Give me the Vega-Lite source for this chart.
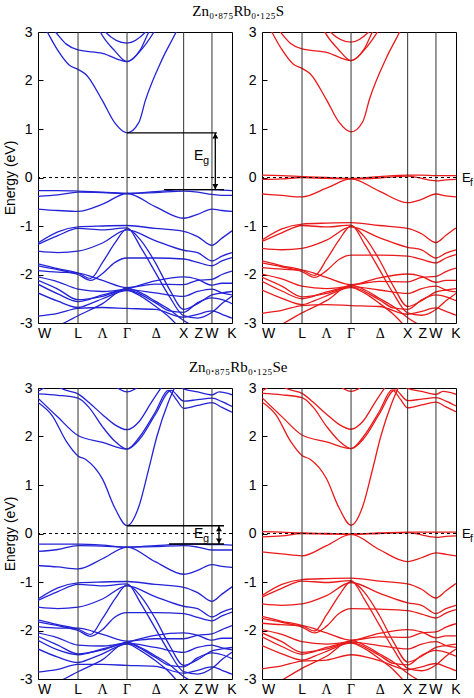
{
"$schema":"https://vega.github.io/schema/vega-lite/v6.json",
"background":"white",
"padding":{"left":3,"top":3,"right":0,"bottom":0},
"spacing":17,
"datasets":{
"sym":[{"k":0.707},{"k":1.573},{"k":2.573},{"k":3.073}],
"zero":[{"e":0}],
"labW0":[{"k":0,"t":"W"}],
"labS":[{"k":0.707,"t":"L"},{"k":2.573,"t":"X"},{"k":2.84,"t":"Z"},{"k":3.073,"t":"W"},{"k":3.427,"t":"K"}],
"labG":[{"k":1.14,"t":"Λ"},{"k":1.573,"t":"Γ"},{"k":2.09,"t":"Δ"}],
"egsH":[{"k":1.573,"k2":3.16,"e":0.92},{"k":2.226,"k2":3.286,"e":-0.25}],
"egsV":[{"k":3.132,"e":0.92,"e2":-0.25}],
"egsA":[{"k":3.132,"e":0.858,"dir":"up"},{"k":3.132,"e":-0.188,"dir":"down"}],
"egsT":[{"k":2.756,"e":0.435}],
"egeH":[{"k":1.573,"k2":3.286,"e":0.16},{"k":2.314,"k2":3.286,"e":-0.217}],
"egeV":[{"k":3.197,"e":0.16,"e2":-0.217}],
"egeA":[{"k":3.197,"e":0.098,"dir":"up"},{"k":3.197,"e":-0.155,"dir":"down"}],
"egeT":[{"k":2.756,"e":0.0}],
"ef":[{"k":3.427,"e":0}],
"sb":[
{"b":"c1","k":0,"e":3.35},{"b":"c1","k":0.164,"e":3.0},{"b":"c1","k":0.35,"e":2.62},{"b":"c1","k":0.55,"e":2.32},{"b":"c1","k":0.707,"e":2.23},{"b":"c1","k":0.85,"e":2.12},{"b":"c1","k":1.14,"e":1.58},{"b":"c1","k":1.36,"e":1.12},{"b":"c1","k":1.573,"e":0.92},{"b":"c1","k":1.78,"e":1.13},{"b":"c1","k":1.9,"e":1.6},{"b":"c1","k":2.19,"e":2.43},{"b":"c1","k":2.44,"e":3.0},{"b":"c1","k":2.6,"e":3.4},
{"b":"c2","k":0.1,"e":3.3},{"b":"c2","k":0.31,"e":3.0},{"b":"c2","k":0.5,"e":2.75},{"b":"c2","k":0.707,"e":2.63},{"b":"c2","k":1.14,"e":2.56},{"b":"c2","k":1.573,"e":2.39},{"b":"c2","k":1.8,"e":2.62},{"b":"c2","k":1.96,"e":3.0},{"b":"c2","k":2.15,"e":3.3},
{"b":"c3","k":0.95,"e":3.4},{"b":"c3","k":1.1,"e":3.0},{"b":"c3","k":1.35,"e":2.62},{"b":"c3","k":1.573,"e":2.39},{"b":"c3","k":1.8,"e":2.6},{"b":"c3","k":2.05,"e":3.0},{"b":"c3","k":2.2,"e":3.3},
{"b":"c4","k":1.0,"e":3.3},{"b":"c4","k":1.19,"e":3.0},{"b":"c4","k":1.573,"e":2.77},{"b":"c4","k":1.9,"e":3.0},{"b":"c4","k":2.1,"e":3.3},
{"b":"vA","k":0,"e":-0.27},{"b":"vA","k":0.35,"e":-0.27},{"b":"vA","k":0.707,"e":-0.28},{"b":"vA","k":1.14,"e":-0.3},{"b":"vA","k":1.573,"e":-0.33},{"b":"vA","k":2.07,"e":-0.29},{"b":"vA","k":2.573,"e":-0.25},{"b":"vA","k":2.82,"e":-0.25},{"b":"vA","k":3.073,"e":-0.25},{"b":"vA","k":3.25,"e":-0.26},{"b":"vA","k":3.427,"e":-0.27},
{"b":"vB","k":0,"e":-0.39},{"b":"vB","k":0.35,"e":-0.36},{"b":"vB","k":0.707,"e":-0.3},{"b":"vB","k":1.14,"e":-0.31},{"b":"vB","k":1.573,"e":-0.33},{"b":"vB","k":2.07,"e":-0.31},{"b":"vB","k":2.573,"e":-0.28},{"b":"vB","k":2.82,"e":-0.3},{"b":"vB","k":3.073,"e":-0.35},{"b":"vB","k":3.25,"e":-0.37},{"b":"vB","k":3.427,"e":-0.37},
{"b":"vC","k":0,"e":-0.65},{"b":"vC","k":0.35,"e":-0.68},{"b":"vC","k":0.707,"e":-0.7},{"b":"vC","k":1.14,"e":-0.55},{"b":"vC","k":1.573,"e":-0.33},{"b":"vC","k":2.07,"e":-0.6},{"b":"vC","k":2.573,"e":-0.84},{"b":"vC","k":2.82,"e":-0.76},{"b":"vC","k":3.073,"e":-0.65},{"b":"vC","k":3.25,"e":-0.68},{"b":"vC","k":3.427,"e":-0.7},
{"b":"B1","k":0,"e":-1.35},{"b":"B1","k":0.35,"e":-1.12},{"b":"B1","k":0.707,"e":-1.02},{"b":"B1","k":1.14,"e":-1.0},{"b":"B1","k":1.573,"e":-0.99},{"b":"B1","k":2.07,"e":-1.05},{"b":"B1","k":2.573,"e":-1.11},{"b":"B1","k":2.82,"e":-1.22},{"b":"B1","k":3.073,"e":-1.4},{"b":"B1","k":3.25,"e":-1.25},{"b":"B1","k":3.427,"e":-1.1},
{"b":"B2","k":0,"e":-1.38},{"b":"B2","k":0.35,"e":-1.2},{"b":"B2","k":0.707,"e":-1.05},{"b":"B2","k":1.14,"e":-1.08},{"b":"B2","k":1.573,"e":-1.04},{"b":"B2","k":1.82,"e":-1.45},{"b":"B2","k":2.07,"e":-1.95},{"b":"B2","k":2.32,"e":-2.45},{"b":"B2","k":2.573,"e":-2.85},{"b":"B2","k":2.82,"e":-2.9},{"b":"B2","k":3.073,"e":-2.78},{"b":"B2","k":3.25,"e":-2.6},{"b":"B2","k":3.427,"e":-2.45},
{"b":"B3","k":0,"e":-1.52},{"b":"B3","k":0.35,"e":-1.55},{"b":"B3","k":0.707,"e":-1.52},{"b":"B3","k":1.14,"e":-1.35},{"b":"B3","k":1.573,"e":-1.08},{"b":"B3","k":2.07,"e":-1.3},{"b":"B3","k":2.573,"e":-1.5},{"b":"B3","k":2.82,"e":-1.55},{"b":"B3","k":3.073,"e":-1.72},{"b":"B3","k":3.25,"e":-1.62},{"b":"B3","k":3.427,"e":-1.55},
{"b":"B4","k":0,"e":-1.78},{"b":"B4","k":0.35,"e":-1.88},{"b":"B4","k":0.707,"e":-1.97},{"b":"B4","k":0.93,"e":-2.08},{"b":"B4","k":1.14,"e":-1.75},{"b":"B4","k":1.36,"e":-1.35},{"b":"B4","k":1.573,"e":-1.06},{"b":"B4","k":1.82,"e":-1.3},{"b":"B4","k":2.07,"e":-1.75},{"b":"B4","k":2.32,"e":-2.3},{"b":"B4","k":2.573,"e":-2.72},{"b":"B4","k":2.82,"e":-2.6},{"b":"B4","k":3.073,"e":-2.42},{"b":"B4","k":3.25,"e":-2.38},{"b":"B4","k":3.427,"e":-2.35},
{"b":"B5","k":0,"e":-1.82},{"b":"B5","k":0.35,"e":-1.9},{"b":"B5","k":0.707,"e":-2.0},{"b":"B5","k":0.93,"e":-2.12},{"b":"B5","k":1.14,"e":-1.98},{"b":"B5","k":1.36,"e":-1.75},{"b":"B5","k":1.573,"e":-1.66},{"b":"B5","k":2.07,"e":-1.66},{"b":"B5","k":2.573,"e":-1.68},{"b":"B5","k":2.82,"e":-1.75},{"b":"B5","k":3.073,"e":-1.82},{"b":"B5","k":3.25,"e":-1.72},{"b":"B5","k":3.427,"e":-1.65},
{"b":"B6","k":0,"e":-1.92},{"b":"B6","k":0.35,"e":-1.95},{"b":"B6","k":0.707,"e":-1.97},{"b":"B6","k":1.14,"e":-2.12},{"b":"B6","k":1.573,"e":-2.27},{"b":"B6","k":2.07,"e":-2.2},{"b":"B6","k":2.573,"e":-2.21},{"b":"B6","k":2.82,"e":-2.12},{"b":"B6","k":3.073,"e":-2.1},{"b":"B6","k":3.25,"e":-2.0},{"b":"B6","k":3.427,"e":-1.93},
{"b":"B7","k":0,"e":-2.05},{"b":"B7","k":0.35,"e":-2.15},{"b":"B7","k":0.707,"e":-2.3},{"b":"B7","k":1.14,"e":-2.35},{"b":"B7","k":1.573,"e":-2.29},{"b":"B7","k":2.07,"e":-2.13},{"b":"B7","k":2.573,"e":-2.05},{"b":"B7","k":2.82,"e":-2.1},{"b":"B7","k":3.073,"e":-2.22},{"b":"B7","k":3.25,"e":-2.18},{"b":"B7","k":3.427,"e":-2.18},
{"b":"B8","k":0,"e":-2.12},{"b":"B8","k":0.35,"e":-2.3},{"b":"B8","k":0.707,"e":-2.52},{"b":"B8","k":1.14,"e":-2.45},{"b":"B8","k":1.573,"e":-2.31},{"b":"B8","k":2.07,"e":-2.38},{"b":"B8","k":2.573,"e":-2.45},{"b":"B8","k":2.82,"e":-2.35},{"b":"B8","k":3.073,"e":-2.3},{"b":"B8","k":3.25,"e":-2.38},{"b":"B8","k":3.427,"e":-2.42},
{"b":"B9","k":0,"e":-2.2},{"b":"B9","k":0.35,"e":-2.4},{"b":"B9","k":0.707,"e":-2.56},{"b":"B9","k":1.14,"e":-2.42},{"b":"B9","k":1.573,"e":-2.32},{"b":"B9","k":2.07,"e":-2.58},{"b":"B9","k":2.32,"e":-2.75},{"b":"B9","k":2.573,"e":-2.78},{"b":"B9","k":2.82,"e":-2.58},{"b":"B9","k":3.073,"e":-2.48},{"b":"B9","k":3.25,"e":-2.52},{"b":"B9","k":3.427,"e":-2.6},
{"b":"B10","k":0,"e":-2.86},{"b":"B10","k":0.35,"e":-2.8},{"b":"B10","k":0.707,"e":-2.7},{"b":"B10","k":1.14,"e":-2.68},{"b":"B10","k":1.573,"e":-2.7},{"b":"B10","k":2.07,"e":-2.72},{"b":"B10","k":2.573,"e":-2.88},{"b":"B10","k":2.82,"e":-2.82},{"b":"B10","k":3.073,"e":-2.75},{"b":"B10","k":3.25,"e":-2.82},{"b":"B10","k":3.427,"e":-2.9},
{"b":"B11","k":0,"e":-2.38},{"b":"B11","k":0.35,"e":-2.55},{"b":"B11","k":0.707,"e":-2.68},{"b":"B11","k":0.93,"e":-2.6},{"b":"B11","k":1.14,"e":-2.5},{"b":"B11","k":1.573,"e":-2.33},{"b":"B11","k":1.82,"e":-2.45},{"b":"B11","k":2.07,"e":-2.65},{"b":"B11","k":2.32,"e":-2.88},{"b":"B11","k":2.5,"e":-3.1},
{"b":"B12","k":0.3,"e":-3.1},{"b":"B12","k":0.707,"e":-2.85},{"b":"B12","k":1.14,"e":-2.6},{"b":"B12","k":1.573,"e":-2.28},{"b":"B12","k":1.82,"e":-2.38},{"b":"B12","k":2.07,"e":-2.55},{"b":"B12","k":2.32,"e":-2.72},{"b":"B12","k":2.573,"e":-2.95},{"b":"B12","k":2.82,"e":-3.1}
],
"sr":[
{"b":"c1","k":0,"e":3.37},{"b":"c1","k":0.164,"e":3.02},{"b":"c1","k":0.35,"e":2.64},{"b":"c1","k":0.55,"e":2.34},{"b":"c1","k":0.707,"e":2.25},{"b":"c1","k":0.85,"e":2.14},{"b":"c1","k":1.14,"e":1.6},{"b":"c1","k":1.36,"e":1.14},{"b":"c1","k":1.573,"e":0.94},{"b":"c1","k":1.78,"e":1.15},{"b":"c1","k":1.9,"e":1.62},{"b":"c1","k":2.19,"e":2.45},{"b":"c1","k":2.44,"e":3.02},{"b":"c1","k":2.6,"e":3.42},
{"b":"c2","k":0.1,"e":3.32},{"b":"c2","k":0.31,"e":3.02},{"b":"c2","k":0.5,"e":2.77},{"b":"c2","k":0.707,"e":2.65},{"b":"c2","k":1.14,"e":2.58},{"b":"c2","k":1.573,"e":2.41},{"b":"c2","k":1.8,"e":2.64},{"b":"c2","k":1.96,"e":3.02},{"b":"c2","k":2.15,"e":3.32},
{"b":"c3","k":0.95,"e":3.42},{"b":"c3","k":1.1,"e":3.02},{"b":"c3","k":1.35,"e":2.64},{"b":"c3","k":1.573,"e":2.41},{"b":"c3","k":1.8,"e":2.62},{"b":"c3","k":2.05,"e":3.02},{"b":"c3","k":2.2,"e":3.32},
{"b":"c4","k":1.0,"e":3.32},{"b":"c4","k":1.19,"e":3.02},{"b":"c4","k":1.573,"e":2.79},{"b":"c4","k":1.9,"e":3.02},{"b":"c4","k":2.1,"e":3.32},
{"b":"vA","k":0,"e":0.05},{"b":"vA","k":0.35,"e":0.04},{"b":"vA","k":0.707,"e":0.02},{"b":"vA","k":1.14,"e":0.0},{"b":"vA","k":1.573,"e":-0.02},{"b":"vA","k":2.07,"e":0.02},{"b":"vA","k":2.573,"e":0.05},{"b":"vA","k":2.82,"e":0.05},{"b":"vA","k":3.073,"e":0.04},{"b":"vA","k":3.25,"e":0.04},{"b":"vA","k":3.427,"e":0.04},
{"b":"vB","k":0,"e":-0.04},{"b":"vB","k":0.35,"e":-0.03},{"b":"vB","k":0.707,"e":0.0},{"b":"vB","k":1.14,"e":-0.02},{"b":"vB","k":1.573,"e":-0.03},{"b":"vB","k":2.07,"e":-0.01},{"b":"vB","k":2.573,"e":0.03},{"b":"vB","k":2.82,"e":-0.02},{"b":"vB","k":3.073,"e":-0.07},{"b":"vB","k":3.25,"e":-0.05},{"b":"vB","k":3.427,"e":-0.04},
{"b":"vC","k":0,"e":-0.34},{"b":"vC","k":0.35,"e":-0.37},{"b":"vC","k":0.707,"e":-0.4},{"b":"vC","k":1.14,"e":-0.22},{"b":"vC","k":1.573,"e":-0.03},{"b":"vC","k":2.07,"e":-0.28},{"b":"vC","k":2.573,"e":-0.52},{"b":"vC","k":2.82,"e":-0.45},{"b":"vC","k":3.073,"e":-0.34},{"b":"vC","k":3.25,"e":-0.38},{"b":"vC","k":3.427,"e":-0.4},
{"b":"B1","k":0,"e":-1.29},{"b":"B1","k":0.35,"e":-1.06},{"b":"B1","k":0.707,"e":-0.96},{"b":"B1","k":1.14,"e":-0.94},{"b":"B1","k":1.573,"e":-0.93},{"b":"B1","k":2.07,"e":-0.99},{"b":"B1","k":2.573,"e":-1.05},{"b":"B1","k":2.82,"e":-1.16},{"b":"B1","k":3.073,"e":-1.34},{"b":"B1","k":3.25,"e":-1.19},{"b":"B1","k":3.427,"e":-1.04},
{"b":"B2","k":0,"e":-1.32},{"b":"B2","k":0.35,"e":-1.14},{"b":"B2","k":0.707,"e":-0.99},{"b":"B2","k":1.14,"e":-1.02},{"b":"B2","k":1.573,"e":-0.98},{"b":"B2","k":1.82,"e":-1.39},{"b":"B2","k":2.07,"e":-1.89},{"b":"B2","k":2.32,"e":-2.39},{"b":"B2","k":2.573,"e":-2.79},{"b":"B2","k":2.82,"e":-2.84},{"b":"B2","k":3.073,"e":-2.72},{"b":"B2","k":3.25,"e":-2.54},{"b":"B2","k":3.427,"e":-2.39},
{"b":"B3","k":0,"e":-1.46},{"b":"B3","k":0.35,"e":-1.49},{"b":"B3","k":0.707,"e":-1.46},{"b":"B3","k":1.14,"e":-1.29},{"b":"B3","k":1.573,"e":-1.02},{"b":"B3","k":2.07,"e":-1.24},{"b":"B3","k":2.573,"e":-1.44},{"b":"B3","k":2.82,"e":-1.49},{"b":"B3","k":3.073,"e":-1.66},{"b":"B3","k":3.25,"e":-1.56},{"b":"B3","k":3.427,"e":-1.49},
{"b":"B4","k":0,"e":-1.72},{"b":"B4","k":0.35,"e":-1.82},{"b":"B4","k":0.707,"e":-1.91},{"b":"B4","k":0.93,"e":-2.02},{"b":"B4","k":1.14,"e":-1.69},{"b":"B4","k":1.36,"e":-1.29},{"b":"B4","k":1.573,"e":-1.0},{"b":"B4","k":1.82,"e":-1.24},{"b":"B4","k":2.07,"e":-1.69},{"b":"B4","k":2.32,"e":-2.24},{"b":"B4","k":2.573,"e":-2.66},{"b":"B4","k":2.82,"e":-2.54},{"b":"B4","k":3.073,"e":-2.36},{"b":"B4","k":3.25,"e":-2.32},{"b":"B4","k":3.427,"e":-2.29},
{"b":"B5","k":0,"e":-1.76},{"b":"B5","k":0.35,"e":-1.84},{"b":"B5","k":0.707,"e":-1.94},{"b":"B5","k":0.93,"e":-2.06},{"b":"B5","k":1.14,"e":-1.92},{"b":"B5","k":1.36,"e":-1.69},{"b":"B5","k":1.573,"e":-1.6},{"b":"B5","k":2.07,"e":-1.6},{"b":"B5","k":2.573,"e":-1.62},{"b":"B5","k":2.82,"e":-1.69},{"b":"B5","k":3.073,"e":-1.76},{"b":"B5","k":3.25,"e":-1.66},{"b":"B5","k":3.427,"e":-1.59},
{"b":"B6","k":0,"e":-1.86},{"b":"B6","k":0.35,"e":-1.89},{"b":"B6","k":0.707,"e":-1.91},{"b":"B6","k":1.14,"e":-2.06},{"b":"B6","k":1.573,"e":-2.21},{"b":"B6","k":2.07,"e":-2.14},{"b":"B6","k":2.573,"e":-2.15},{"b":"B6","k":2.82,"e":-2.06},{"b":"B6","k":3.073,"e":-2.04},{"b":"B6","k":3.25,"e":-1.94},{"b":"B6","k":3.427,"e":-1.87},
{"b":"B7","k":0,"e":-1.99},{"b":"B7","k":0.35,"e":-2.09},{"b":"B7","k":0.707,"e":-2.24},{"b":"B7","k":1.14,"e":-2.29},{"b":"B7","k":1.573,"e":-2.23},{"b":"B7","k":2.07,"e":-2.07},{"b":"B7","k":2.573,"e":-1.99},{"b":"B7","k":2.82,"e":-2.04},{"b":"B7","k":3.073,"e":-2.16},{"b":"B7","k":3.25,"e":-2.12},{"b":"B7","k":3.427,"e":-2.12},
{"b":"B8","k":0,"e":-2.06},{"b":"B8","k":0.35,"e":-2.24},{"b":"B8","k":0.707,"e":-2.46},{"b":"B8","k":1.14,"e":-2.39},{"b":"B8","k":1.573,"e":-2.25},{"b":"B8","k":2.07,"e":-2.32},{"b":"B8","k":2.573,"e":-2.39},{"b":"B8","k":2.82,"e":-2.29},{"b":"B8","k":3.073,"e":-2.24},{"b":"B8","k":3.25,"e":-2.32},{"b":"B8","k":3.427,"e":-2.36},
{"b":"B9","k":0,"e":-2.14},{"b":"B9","k":0.35,"e":-2.34},{"b":"B9","k":0.707,"e":-2.5},{"b":"B9","k":1.14,"e":-2.36},{"b":"B9","k":1.573,"e":-2.26},{"b":"B9","k":2.07,"e":-2.52},{"b":"B9","k":2.32,"e":-2.69},{"b":"B9","k":2.573,"e":-2.72},{"b":"B9","k":2.82,"e":-2.52},{"b":"B9","k":3.073,"e":-2.42},{"b":"B9","k":3.25,"e":-2.46},{"b":"B9","k":3.427,"e":-2.54},
{"b":"B10","k":0,"e":-2.8},{"b":"B10","k":0.35,"e":-2.74},{"b":"B10","k":0.707,"e":-2.64},{"b":"B10","k":1.14,"e":-2.62},{"b":"B10","k":1.573,"e":-2.64},{"b":"B10","k":2.07,"e":-2.66},{"b":"B10","k":2.573,"e":-2.82},{"b":"B10","k":2.82,"e":-2.76},{"b":"B10","k":3.073,"e":-2.69},{"b":"B10","k":3.25,"e":-2.76},{"b":"B10","k":3.427,"e":-2.84},
{"b":"B11","k":0,"e":-2.32},{"b":"B11","k":0.35,"e":-2.49},{"b":"B11","k":0.707,"e":-2.62},{"b":"B11","k":0.93,"e":-2.54},{"b":"B11","k":1.14,"e":-2.44},{"b":"B11","k":1.573,"e":-2.27},{"b":"B11","k":1.82,"e":-2.39},{"b":"B11","k":2.07,"e":-2.59},{"b":"B11","k":2.32,"e":-2.82},{"b":"B11","k":2.55,"e":-3.1},
{"b":"B12","k":0.25,"e":-3.1},{"b":"B12","k":0.707,"e":-2.79},{"b":"B12","k":1.14,"e":-2.54},{"b":"B12","k":1.573,"e":-2.22},{"b":"B12","k":1.82,"e":-2.32},{"b":"B12","k":2.07,"e":-2.49},{"b":"B12","k":2.32,"e":-2.66},{"b":"B12","k":2.573,"e":-2.89},{"b":"B12","k":2.87,"e":-3.1}
],
"eb":[
{"b":"c1","k":0,"e":2.7},{"b":"c1","k":0.25,"e":2.43},{"b":"c1","k":0.5,"e":1.9},{"b":"c1","k":0.707,"e":1.6},{"b":"c1","k":0.85,"e":1.52},{"b":"c1","k":1.14,"e":1.12},{"b":"c1","k":1.36,"e":0.52},{"b":"c1","k":1.573,"e":0.16},{"b":"c1","k":1.78,"e":0.55},{"b":"c1","k":1.95,"e":1.3},{"b":"c1","k":2.1,"e":2.0},{"b":"c1","k":2.3,"e":2.7},{"b":"c1","k":2.45,"e":3.1},
{"b":"c2","k":0,"e":2.79},{"b":"c2","k":0.35,"e":2.4},{"b":"c2","k":0.707,"e":2.02},{"b":"c2","k":1.14,"e":1.88},{"b":"c2","k":1.573,"e":1.74},{"b":"c2","k":1.8,"e":1.95},{"b":"c2","k":2.07,"e":2.45},{"b":"c2","k":2.35,"e":2.95},{"b":"c2","k":2.573,"e":2.73},{"b":"c2","k":2.82,"e":2.76},{"b":"c2","k":3.073,"e":2.79},{"b":"c2","k":3.25,"e":2.72},{"b":"c2","k":3.427,"e":2.62},
{"b":"c3","k":0,"e":2.88},{"b":"c3","k":0.35,"e":2.85},{"b":"c3","k":0.707,"e":2.79},{"b":"c3","k":0.9,"e":2.6},{"b":"c3","k":1.14,"e":2.2},{"b":"c3","k":1.36,"e":1.9},{"b":"c3","k":1.573,"e":1.74},{"b":"c3","k":1.8,"e":2.0},{"b":"c3","k":2.07,"e":2.5},{"b":"c3","k":2.3,"e":2.95},{"b":"c3","k":2.45,"e":2.75},{"b":"c3","k":2.573,"e":2.58},{"b":"c3","k":2.82,"e":2.64},{"b":"c3","k":3.073,"e":2.7},{"b":"c3","k":3.25,"e":2.6},{"b":"c3","k":3.427,"e":2.5},
{"b":"c4","k":0.3,"e":3.05},{"b":"c4","k":0.5,"e":2.95},{"b":"c4","k":0.707,"e":2.88},{"b":"c4","k":0.9,"e":2.7},{"b":"c4","k":1.14,"e":2.45},{"b":"c4","k":1.36,"e":2.24},{"b":"c4","k":1.573,"e":2.14},{"b":"c4","k":1.78,"e":2.3},{"b":"c4","k":2.0,"e":2.7},{"b":"c4","k":2.2,"e":3.05},
{"b":"c5","k":1.3,"e":3.1},{"b":"c5","k":1.45,"e":2.97},{"b":"c5","k":1.573,"e":2.92},{"b":"c5","k":1.7,"e":2.97},{"b":"c5","k":1.85,"e":3.1},
{"b":"c6","k":2.45,"e":3.1},{"b":"c6","k":2.573,"e":2.98},{"b":"c6","k":2.82,"e":2.92},{"b":"c6","k":3.073,"e":2.86},{"b":"c6","k":3.2,"e":2.92},{"b":"c6","k":3.427,"e":2.86},
{"b":"c7","k":0,"e":2.93},{"b":"c7","k":0.1,"e":3.0},{"b":"c7","k":0.2,"e":3.1},
{"b":"vA","k":0,"e":-0.22},{"b":"vA","k":0.35,"e":-0.22},{"b":"vA","k":0.707,"e":-0.22},{"b":"vA","k":1.14,"e":-0.24},{"b":"vA","k":1.573,"e":-0.28},{"b":"vA","k":2.07,"e":-0.25},{"b":"vA","k":2.573,"e":-0.22},{"b":"vA","k":2.82,"e":-0.22},{"b":"vA","k":3.073,"e":-0.23},{"b":"vA","k":3.25,"e":-0.23},{"b":"vA","k":3.427,"e":-0.24},
{"b":"vB","k":0,"e":-0.37},{"b":"vB","k":0.35,"e":-0.33},{"b":"vB","k":0.707,"e":-0.25},{"b":"vB","k":1.14,"e":-0.26},{"b":"vB","k":1.573,"e":-0.28},{"b":"vB","k":2.07,"e":-0.27},{"b":"vB","k":2.573,"e":-0.25},{"b":"vB","k":2.82,"e":-0.28},{"b":"vB","k":3.073,"e":-0.34},{"b":"vB","k":3.25,"e":-0.34},{"b":"vB","k":3.427,"e":-0.34},
{"b":"vC","k":0,"e":-0.66},{"b":"vC","k":0.35,"e":-0.69},{"b":"vC","k":0.707,"e":-0.73},{"b":"vC","k":1.14,"e":-0.52},{"b":"vC","k":1.573,"e":-0.28},{"b":"vC","k":2.07,"e":-0.58},{"b":"vC","k":2.573,"e":-0.84},{"b":"vC","k":2.82,"e":-0.76},{"b":"vC","k":3.073,"e":-0.64},{"b":"vC","k":3.25,"e":-0.68},{"b":"vC","k":3.427,"e":-0.7},
{"b":"B1","k":0,"e":-1.35},{"b":"B1","k":0.35,"e":-1.12},{"b":"B1","k":0.707,"e":-1.02},{"b":"B1","k":1.14,"e":-1.0},{"b":"B1","k":1.573,"e":-0.99},{"b":"B1","k":2.07,"e":-1.05},{"b":"B1","k":2.573,"e":-1.11},{"b":"B1","k":2.82,"e":-1.22},{"b":"B1","k":3.073,"e":-1.4},{"b":"B1","k":3.25,"e":-1.25},{"b":"B1","k":3.427,"e":-1.1},
{"b":"B2","k":0,"e":-1.38},{"b":"B2","k":0.35,"e":-1.2},{"b":"B2","k":0.707,"e":-1.05},{"b":"B2","k":1.14,"e":-1.08},{"b":"B2","k":1.573,"e":-1.04},{"b":"B2","k":1.82,"e":-1.45},{"b":"B2","k":2.07,"e":-1.95},{"b":"B2","k":2.32,"e":-2.45},{"b":"B2","k":2.573,"e":-2.85},{"b":"B2","k":2.82,"e":-2.9},{"b":"B2","k":3.073,"e":-2.78},{"b":"B2","k":3.25,"e":-2.6},{"b":"B2","k":3.427,"e":-2.45},
{"b":"B3","k":0,"e":-1.52},{"b":"B3","k":0.35,"e":-1.55},{"b":"B3","k":0.707,"e":-1.52},{"b":"B3","k":1.14,"e":-1.35},{"b":"B3","k":1.573,"e":-1.08},{"b":"B3","k":2.07,"e":-1.3},{"b":"B3","k":2.573,"e":-1.5},{"b":"B3","k":2.82,"e":-1.55},{"b":"B3","k":3.073,"e":-1.72},{"b":"B3","k":3.25,"e":-1.62},{"b":"B3","k":3.427,"e":-1.55},
{"b":"B4","k":0,"e":-1.78},{"b":"B4","k":0.35,"e":-1.88},{"b":"B4","k":0.707,"e":-1.97},{"b":"B4","k":0.93,"e":-2.08},{"b":"B4","k":1.14,"e":-1.75},{"b":"B4","k":1.36,"e":-1.35},{"b":"B4","k":1.573,"e":-1.06},{"b":"B4","k":1.82,"e":-1.3},{"b":"B4","k":2.07,"e":-1.75},{"b":"B4","k":2.32,"e":-2.3},{"b":"B4","k":2.573,"e":-2.72},{"b":"B4","k":2.82,"e":-2.6},{"b":"B4","k":3.073,"e":-2.42},{"b":"B4","k":3.25,"e":-2.38},{"b":"B4","k":3.427,"e":-2.35},
{"b":"B5","k":0,"e":-1.82},{"b":"B5","k":0.35,"e":-1.9},{"b":"B5","k":0.707,"e":-2.0},{"b":"B5","k":0.93,"e":-2.12},{"b":"B5","k":1.14,"e":-1.98},{"b":"B5","k":1.36,"e":-1.72},{"b":"B5","k":1.573,"e":-1.63},{"b":"B5","k":2.07,"e":-1.63},{"b":"B5","k":2.573,"e":-1.65},{"b":"B5","k":2.82,"e":-1.73},{"b":"B5","k":3.073,"e":-1.8},{"b":"B5","k":3.25,"e":-1.7},{"b":"B5","k":3.427,"e":-1.62},
{"b":"B6","k":0,"e":-1.92},{"b":"B6","k":0.35,"e":-1.95},{"b":"B6","k":0.707,"e":-1.95},{"b":"B6","k":1.14,"e":-2.08},{"b":"B6","k":1.573,"e":-2.22},{"b":"B6","k":2.07,"e":-2.17},{"b":"B6","k":2.573,"e":-2.17},{"b":"B6","k":2.82,"e":-2.1},{"b":"B6","k":3.073,"e":-2.07},{"b":"B6","k":3.25,"e":-1.98},{"b":"B6","k":3.427,"e":-1.9},
{"b":"B7","k":0,"e":-2.05},{"b":"B7","k":0.35,"e":-2.15},{"b":"B7","k":0.707,"e":-2.3},{"b":"B7","k":1.14,"e":-2.32},{"b":"B7","k":1.573,"e":-2.24},{"b":"B7","k":2.07,"e":-2.1},{"b":"B7","k":2.573,"e":-2.05},{"b":"B7","k":2.82,"e":-2.1},{"b":"B7","k":3.073,"e":-2.2},{"b":"B7","k":3.25,"e":-2.16},{"b":"B7","k":3.427,"e":-2.16},
{"b":"B8","k":0,"e":-2.12},{"b":"B8","k":0.35,"e":-2.3},{"b":"B8","k":0.707,"e":-2.48},{"b":"B8","k":1.14,"e":-2.4},{"b":"B8","k":1.573,"e":-2.26},{"b":"B8","k":2.07,"e":-2.35},{"b":"B8","k":2.573,"e":-2.45},{"b":"B8","k":2.82,"e":-2.35},{"b":"B8","k":3.073,"e":-2.3},{"b":"B8","k":3.25,"e":-2.36},{"b":"B8","k":3.427,"e":-2.4},
{"b":"B9","k":0,"e":-2.2},{"b":"B9","k":0.35,"e":-2.4},{"b":"B9","k":0.707,"e":-2.5},{"b":"B9","k":1.14,"e":-2.38},{"b":"B9","k":1.573,"e":-2.27},{"b":"B9","k":2.07,"e":-2.55},{"b":"B9","k":2.32,"e":-2.72},{"b":"B9","k":2.573,"e":-2.75},{"b":"B9","k":2.82,"e":-2.56},{"b":"B9","k":3.073,"e":-2.46},{"b":"B9","k":3.25,"e":-2.5},{"b":"B9","k":3.427,"e":-2.58},
{"b":"B10","k":0,"e":-2.86},{"b":"B10","k":0.35,"e":-2.8},{"b":"B10","k":0.707,"e":-2.7},{"b":"B10","k":1.14,"e":-2.7},{"b":"B10","k":1.573,"e":-2.72},{"b":"B10","k":2.07,"e":-2.74},{"b":"B10","k":2.573,"e":-2.88},{"b":"B10","k":2.82,"e":-2.82},{"b":"B10","k":3.073,"e":-2.75},{"b":"B10","k":3.25,"e":-2.82},{"b":"B10","k":3.427,"e":-2.9},
{"b":"B11","k":0,"e":-2.38},{"b":"B11","k":0.35,"e":-2.55},{"b":"B11","k":0.707,"e":-2.66},{"b":"B11","k":0.93,"e":-2.58},{"b":"B11","k":1.14,"e":-2.48},{"b":"B11","k":1.573,"e":-2.28},{"b":"B11","k":1.82,"e":-2.42},{"b":"B11","k":2.07,"e":-2.62},{"b":"B11","k":2.32,"e":-2.86},{"b":"B11","k":2.5,"e":-3.1},
{"b":"B12","k":0.3,"e":-3.1},{"b":"B12","k":0.707,"e":-2.85},{"b":"B12","k":1.14,"e":-2.6},{"b":"B12","k":1.573,"e":-2.24},{"b":"B12","k":1.82,"e":-2.36},{"b":"B12","k":2.07,"e":-2.52},{"b":"B12","k":2.32,"e":-2.7},{"b":"B12","k":2.573,"e":-2.95},{"b":"B12","k":2.82,"e":-3.1}
],
"er":[
{"b":"c1","k":0,"e":2.71},{"b":"c1","k":0.25,"e":2.44},{"b":"c1","k":0.5,"e":1.91},{"b":"c1","k":0.707,"e":1.61},{"b":"c1","k":0.85,"e":1.53},{"b":"c1","k":1.14,"e":1.13},{"b":"c1","k":1.36,"e":0.53},{"b":"c1","k":1.573,"e":0.17},{"b":"c1","k":1.78,"e":0.56},{"b":"c1","k":1.95,"e":1.31},{"b":"c1","k":2.1,"e":2.01},{"b":"c1","k":2.3,"e":2.71},{"b":"c1","k":2.45,"e":3.11},
{"b":"c2","k":0,"e":2.8},{"b":"c2","k":0.35,"e":2.41},{"b":"c2","k":0.707,"e":2.03},{"b":"c2","k":1.14,"e":1.89},{"b":"c2","k":1.573,"e":1.75},{"b":"c2","k":1.8,"e":1.96},{"b":"c2","k":2.07,"e":2.46},{"b":"c2","k":2.35,"e":2.96},{"b":"c2","k":2.573,"e":2.74},{"b":"c2","k":2.82,"e":2.77},{"b":"c2","k":3.073,"e":2.8},{"b":"c2","k":3.25,"e":2.73},{"b":"c2","k":3.427,"e":2.63},
{"b":"c3","k":0,"e":2.89},{"b":"c3","k":0.35,"e":2.86},{"b":"c3","k":0.707,"e":2.8},{"b":"c3","k":0.9,"e":2.61},{"b":"c3","k":1.14,"e":2.21},{"b":"c3","k":1.36,"e":1.91},{"b":"c3","k":1.573,"e":1.75},{"b":"c3","k":1.8,"e":2.01},{"b":"c3","k":2.07,"e":2.51},{"b":"c3","k":2.3,"e":2.96},{"b":"c3","k":2.45,"e":2.76},{"b":"c3","k":2.573,"e":2.59},{"b":"c3","k":2.82,"e":2.65},{"b":"c3","k":3.073,"e":2.71},{"b":"c3","k":3.25,"e":2.61},{"b":"c3","k":3.427,"e":2.51},
{"b":"c4","k":0.3,"e":3.06},{"b":"c4","k":0.5,"e":2.96},{"b":"c4","k":0.707,"e":2.89},{"b":"c4","k":0.9,"e":2.71},{"b":"c4","k":1.14,"e":2.46},{"b":"c4","k":1.36,"e":2.25},{"b":"c4","k":1.573,"e":2.15},{"b":"c4","k":1.78,"e":2.31},{"b":"c4","k":2.0,"e":2.71},{"b":"c4","k":2.2,"e":3.06},
{"b":"c5","k":1.3,"e":3.11},{"b":"c5","k":1.45,"e":2.98},{"b":"c5","k":1.573,"e":2.93},{"b":"c5","k":1.7,"e":2.98},{"b":"c5","k":1.85,"e":3.11},
{"b":"c6","k":2.45,"e":3.11},{"b":"c6","k":2.573,"e":2.99},{"b":"c6","k":2.82,"e":2.93},{"b":"c6","k":3.073,"e":2.87},{"b":"c6","k":3.2,"e":2.93},{"b":"c6","k":3.427,"e":2.87},
{"b":"c7","k":0,"e":2.94},{"b":"c7","k":0.1,"e":3.01},{"b":"c7","k":0.2,"e":3.11},
{"b":"vA","k":0,"e":0.04},{"b":"vA","k":0.35,"e":0.03},{"b":"vA","k":0.707,"e":0.01},{"b":"vA","k":1.14,"e":0.0},{"b":"vA","k":1.573,"e":-0.01},{"b":"vA","k":2.07,"e":0.01},{"b":"vA","k":2.573,"e":0.03},{"b":"vA","k":2.82,"e":0.03},{"b":"vA","k":3.073,"e":0.03},{"b":"vA","k":3.25,"e":0.03},{"b":"vA","k":3.427,"e":0.03},
{"b":"vB","k":0,"e":-0.07},{"b":"vB","k":0.35,"e":-0.05},{"b":"vB","k":0.707,"e":0.0},{"b":"vB","k":1.14,"e":-0.01},{"b":"vB","k":1.573,"e":-0.02},{"b":"vB","k":2.07,"e":0.0},{"b":"vB","k":2.573,"e":0.02},{"b":"vB","k":2.82,"e":-0.03},{"b":"vB","k":3.073,"e":-0.08},{"b":"vB","k":3.25,"e":-0.06},{"b":"vB","k":3.427,"e":-0.05},
{"b":"vC","k":0,"e":-0.38},{"b":"vC","k":0.35,"e":-0.42},{"b":"vC","k":0.707,"e":-0.46},{"b":"vC","k":1.14,"e":-0.25},{"b":"vC","k":1.573,"e":-0.02},{"b":"vC","k":2.07,"e":-0.33},{"b":"vC","k":2.573,"e":-0.58},{"b":"vC","k":2.82,"e":-0.5},{"b":"vC","k":3.073,"e":-0.4},{"b":"vC","k":3.25,"e":-0.43},{"b":"vC","k":3.427,"e":-0.46},
{"b":"B1","k":0,"e":-1.28},{"b":"B1","k":0.35,"e":-1.05},{"b":"B1","k":0.707,"e":-0.95},{"b":"B1","k":1.14,"e":-0.93},{"b":"B1","k":1.573,"e":-0.92},{"b":"B1","k":2.07,"e":-0.98},{"b":"B1","k":2.573,"e":-1.04},{"b":"B1","k":2.82,"e":-1.15},{"b":"B1","k":3.073,"e":-1.33},{"b":"B1","k":3.25,"e":-1.18},{"b":"B1","k":3.427,"e":-1.03},
{"b":"B2","k":0,"e":-1.31},{"b":"B2","k":0.35,"e":-1.13},{"b":"B2","k":0.707,"e":-0.98},{"b":"B2","k":1.14,"e":-1.01},{"b":"B2","k":1.573,"e":-0.97},{"b":"B2","k":1.82,"e":-1.38},{"b":"B2","k":2.07,"e":-1.88},{"b":"B2","k":2.32,"e":-2.38},{"b":"B2","k":2.573,"e":-2.78},{"b":"B2","k":2.82,"e":-2.83},{"b":"B2","k":3.073,"e":-2.71},{"b":"B2","k":3.25,"e":-2.53},{"b":"B2","k":3.427,"e":-2.38},
{"b":"B3","k":0,"e":-1.45},{"b":"B3","k":0.35,"e":-1.48},{"b":"B3","k":0.707,"e":-1.45},{"b":"B3","k":1.14,"e":-1.28},{"b":"B3","k":1.573,"e":-1.01},{"b":"B3","k":2.07,"e":-1.23},{"b":"B3","k":2.573,"e":-1.43},{"b":"B3","k":2.82,"e":-1.48},{"b":"B3","k":3.073,"e":-1.65},{"b":"B3","k":3.25,"e":-1.55},{"b":"B3","k":3.427,"e":-1.48},
{"b":"B4","k":0,"e":-1.71},{"b":"B4","k":0.35,"e":-1.81},{"b":"B4","k":0.707,"e":-1.9},{"b":"B4","k":0.93,"e":-2.01},{"b":"B4","k":1.14,"e":-1.68},{"b":"B4","k":1.36,"e":-1.28},{"b":"B4","k":1.573,"e":-0.99},{"b":"B4","k":1.82,"e":-1.23},{"b":"B4","k":2.07,"e":-1.68},{"b":"B4","k":2.32,"e":-2.23},{"b":"B4","k":2.573,"e":-2.65},{"b":"B4","k":2.82,"e":-2.53},{"b":"B4","k":3.073,"e":-2.35},{"b":"B4","k":3.25,"e":-2.31},{"b":"B4","k":3.427,"e":-2.28},
{"b":"B5","k":0,"e":-1.75},{"b":"B5","k":0.35,"e":-1.83},{"b":"B5","k":0.707,"e":-1.93},{"b":"B5","k":0.93,"e":-2.05},{"b":"B5","k":1.14,"e":-1.91},{"b":"B5","k":1.36,"e":-1.65},{"b":"B5","k":1.573,"e":-1.55},{"b":"B5","k":2.07,"e":-1.56},{"b":"B5","k":2.573,"e":-1.59},{"b":"B5","k":2.82,"e":-1.66},{"b":"B5","k":3.073,"e":-1.74},{"b":"B5","k":3.25,"e":-1.64},{"b":"B5","k":3.427,"e":-1.57},
{"b":"B6","k":0,"e":-1.85},{"b":"B6","k":0.35,"e":-1.88},{"b":"B6","k":0.707,"e":-1.9},{"b":"B6","k":1.14,"e":-2.05},{"b":"B6","k":1.573,"e":-2.2},{"b":"B6","k":2.07,"e":-2.13},{"b":"B6","k":2.573,"e":-2.14},{"b":"B6","k":2.82,"e":-2.05},{"b":"B6","k":3.073,"e":-2.03},{"b":"B6","k":3.25,"e":-1.93},{"b":"B6","k":3.427,"e":-1.86},
{"b":"B7","k":0,"e":-1.98},{"b":"B7","k":0.35,"e":-2.08},{"b":"B7","k":0.707,"e":-2.23},{"b":"B7","k":1.14,"e":-2.28},{"b":"B7","k":1.573,"e":-2.22},{"b":"B7","k":2.07,"e":-2.06},{"b":"B7","k":2.573,"e":-1.98},{"b":"B7","k":2.82,"e":-2.03},{"b":"B7","k":3.073,"e":-2.15},{"b":"B7","k":3.25,"e":-2.11},{"b":"B7","k":3.427,"e":-2.11},
{"b":"B8","k":0,"e":-2.05},{"b":"B8","k":0.35,"e":-2.23},{"b":"B8","k":0.707,"e":-2.45},{"b":"B8","k":1.14,"e":-2.38},{"b":"B8","k":1.573,"e":-2.24},{"b":"B8","k":2.07,"e":-2.31},{"b":"B8","k":2.573,"e":-2.38},{"b":"B8","k":2.82,"e":-2.28},{"b":"B8","k":3.073,"e":-2.23},{"b":"B8","k":3.25,"e":-2.31},{"b":"B8","k":3.427,"e":-2.35},
{"b":"B9","k":0,"e":-2.13},{"b":"B9","k":0.35,"e":-2.33},{"b":"B9","k":0.707,"e":-2.49},{"b":"B9","k":1.14,"e":-2.35},{"b":"B9","k":1.573,"e":-2.25},{"b":"B9","k":2.07,"e":-2.51},{"b":"B9","k":2.32,"e":-2.68},{"b":"B9","k":2.573,"e":-2.71},{"b":"B9","k":2.82,"e":-2.51},{"b":"B9","k":3.073,"e":-2.41},{"b":"B9","k":3.25,"e":-2.45},{"b":"B9","k":3.427,"e":-2.53},
{"b":"B10","k":0,"e":-2.79},{"b":"B10","k":0.35,"e":-2.73},{"b":"B10","k":0.707,"e":-2.63},{"b":"B10","k":1.14,"e":-2.61},{"b":"B10","k":1.573,"e":-2.5},{"b":"B10","k":2.07,"e":-2.62},{"b":"B10","k":2.573,"e":-2.81},{"b":"B10","k":2.82,"e":-2.75},{"b":"B10","k":3.073,"e":-2.68},{"b":"B10","k":3.25,"e":-2.75},{"b":"B10","k":3.427,"e":-2.83},
{"b":"B11","k":0,"e":-2.31},{"b":"B11","k":0.35,"e":-2.48},{"b":"B11","k":0.707,"e":-2.61},{"b":"B11","k":0.93,"e":-2.53},{"b":"B11","k":1.14,"e":-2.43},{"b":"B11","k":1.573,"e":-2.26},{"b":"B11","k":1.82,"e":-2.38},{"b":"B11","k":2.07,"e":-2.58},{"b":"B11","k":2.32,"e":-2.81},{"b":"B11","k":2.55,"e":-3.1},
{"b":"B12","k":0.25,"e":-3.1},{"b":"B12","k":0.707,"e":-2.78},{"b":"B12","k":1.14,"e":-2.53},{"b":"B12","k":1.573,"e":-2.21},{"b":"B12","k":1.82,"e":-2.31},{"b":"B12","k":2.07,"e":-2.48},{"b":"B12","k":2.32,"e":-2.65},{"b":"B12","k":2.573,"e":-2.88},{"b":"B12","k":2.87,"e":-3.1}
]
},
"vconcat":[
{"title":{"text":"Zn₀.₈₇₅Rb₀.₁₂₅S"},"spacing":30,"bounds":"flush","hconcat":[
{"width":194,"height":291,"layer":[
{"data":{"name":"sb"},"mark":{"type":"line","color":"#2323d8","strokeWidth":1.3,"interpolate":"monotone","clip":true},"encoding":{
"x":{"field":"k","type":"quantitative","title":null,"scale":{"domain":[0,3.427],"nice":false,"zero":false},"axis":{"labels":false,"ticks":false,"domain":false,"grid":false}},
"y":{"field":"e","type":"quantitative","title":"Energy (eV)","scale":{"domain":[-3,3],"nice":false,"zero":false},"axis":{"values":[-3,-2.5,-2,-1.5,-1,-0.5,0,0.5,1,1.5,2,2.5,3],"labelExpr":"datum.value % 1 === 0 ? '' + datum.value : ''","tickSize":{"condition":{"test":"datum.value % 1 !== 0","value":-3},"value":-5},"labelPadding":11,"titlePadding":2}},
"detail":{"field":"b","type":"nominal"}}},
{"data":{"name":"sym"},"mark":{"type":"rule","color":"#333333","strokeWidth":1},"encoding":{"x":{"field":"k","type":"quantitative"}}},
{"data":{"name":"zero"},"mark":{"type":"rule","color":"black","strokeDash":[3,3],"strokeWidth":1.2},"encoding":{"y":{"field":"e","type":"quantitative"}}},
{"data":{"name":"labW0"},"mark":{"type":"text","align":"left","baseline":"top","dy":4,"fontSize":14,"font":"Liberation Sans","color":"black"},"encoding":{"x":{"field":"k","type":"quantitative"},"y":{"datum":-3,"type":"quantitative"},"text":{"field":"t"}}},
{"data":{"name":"labS"},"mark":{"type":"text","align":"center","baseline":"top","dy":4,"fontSize":14,"font":"Liberation Sans","color":"black"},"encoding":{"x":{"field":"k","type":"quantitative"},"y":{"datum":-3,"type":"quantitative"},"text":{"field":"t"}}},
{"data":{"name":"labG"},"mark":{"type":"text","align":"center","baseline":"top","dy":4,"fontSize":14,"font":"Liberation Serif","color":"black"},"encoding":{"x":{"field":"k","type":"quantitative"},"y":{"datum":-3,"type":"quantitative"},"text":{"field":"t"}}},
{"data":{"name":"egsH"},"mark":{"type":"rule","color":"black","strokeWidth":1.3},"encoding":{"x":{"field":"k","type":"quantitative"},"x2":{"field":"k2"},"y":{"field":"e","type":"quantitative"}}},
{"data":{"name":"egsV"},"mark":{"type":"rule","color":"black","strokeWidth":1.3},"encoding":{"x":{"field":"k","type":"quantitative"},"y":{"field":"e","type":"quantitative"},"y2":{"field":"e2"}}},
{"data":{"name":"egsA"},"mark":{"type":"point","filled":true,"color":"black","opacity":1,"size":36},"encoding":{"x":{"field":"k","type":"quantitative"},"y":{"field":"e","type":"quantitative"},"shape":{"field":"dir","type":"nominal","scale":{"domain":["up","down"],"range":["triangle-up","triangle-down"]},"legend":null}}},
{"data":{"name":"egsT"},"mark":{"type":"text","text":"E","align":"left","baseline":"middle","fontSize":14,"font":"Liberation Sans","color":"black"},"encoding":{"x":{"field":"k","type":"quantitative"},"y":{"field":"e","type":"quantitative"}}},
{"data":{"name":"egsT"},"mark":{"type":"text","text":"g","align":"left","baseline":"middle","fontSize":11,"font":"Liberation Sans","color":"black","dx":9,"dy":5},"encoding":{"x":{"field":"k","type":"quantitative"},"y":{"field":"e","type":"quantitative"}}}
]},
{"width":194,"height":291,"layer":[
{"data":{"name":"sr"},"mark":{"type":"line","color":"#ea1a1a","strokeWidth":1.3,"interpolate":"monotone","clip":true},"encoding":{
"x":{"field":"k","type":"quantitative","title":null,"scale":{"domain":[0,3.427],"nice":false,"zero":false},"axis":{"labels":false,"ticks":false,"domain":false,"grid":false}},
"y":{"field":"e","type":"quantitative","title":null,"scale":{"domain":[-3,3],"nice":false,"zero":false},"axis":{"values":[-3,-2.5,-2,-1.5,-1,-0.5,0,0.5,1,1.5,2,2.5,3],"labelExpr":"datum.value % 1 === 0 ? '' + datum.value : ''","tickSize":{"condition":{"test":"datum.value % 1 !== 0","value":-3},"value":-5},"labelPadding":11}},
"detail":{"field":"b","type":"nominal"}}},
{"data":{"name":"sym"},"mark":{"type":"rule","color":"#333333","strokeWidth":1},"encoding":{"x":{"field":"k","type":"quantitative"}}},
{"data":{"name":"zero"},"mark":{"type":"rule","color":"black","strokeDash":[3,3],"strokeWidth":1.2},"encoding":{"y":{"field":"e","type":"quantitative"}}},
{"data":{"name":"labW0"},"mark":{"type":"text","align":"left","baseline":"top","dy":4,"fontSize":14,"font":"Liberation Sans","color":"black"},"encoding":{"x":{"field":"k","type":"quantitative"},"y":{"datum":-3,"type":"quantitative"},"text":{"field":"t"}}},
{"data":{"name":"labS"},"mark":{"type":"text","align":"center","baseline":"top","dy":4,"fontSize":14,"font":"Liberation Sans","color":"black"},"encoding":{"x":{"field":"k","type":"quantitative"},"y":{"datum":-3,"type":"quantitative"},"text":{"field":"t"}}},
{"data":{"name":"labG"},"mark":{"type":"text","align":"center","baseline":"top","dy":4,"fontSize":14,"font":"Liberation Serif","color":"black"},"encoding":{"x":{"field":"k","type":"quantitative"},"y":{"datum":-3,"type":"quantitative"},"text":{"field":"t"}}},
{"data":{"name":"ef"},"mark":{"type":"text","text":"E","align":"left","baseline":"middle","fontSize":13,"font":"Liberation Sans","color":"black","dx":6},"encoding":{"x":{"field":"k","type":"quantitative"},"y":{"field":"e","type":"quantitative"}}},
{"data":{"name":"ef"},"mark":{"type":"text","text":"f","align":"left","baseline":"middle","fontSize":10,"font":"Liberation Sans","color":"black","dx":14,"dy":5},"encoding":{"x":{"field":"k","type":"quantitative"},"y":{"field":"e","type":"quantitative"}}}
]}
]},
{"title":{"text":"Zn₀.₈₇₅Rb₀.₁₂₅Se"},"spacing":30,"bounds":"flush","hconcat":[
{"width":194,"height":291,"layer":[
{"data":{"name":"eb"},"mark":{"type":"line","color":"#2323d8","strokeWidth":1.3,"interpolate":"monotone","clip":true},"encoding":{
"x":{"field":"k","type":"quantitative","title":null,"scale":{"domain":[0,3.427],"nice":false,"zero":false},"axis":{"labels":false,"ticks":false,"domain":false,"grid":false}},
"y":{"field":"e","type":"quantitative","title":"Energy (eV)","scale":{"domain":[-3,3],"nice":false,"zero":false},"axis":{"values":[-3,-2.5,-2,-1.5,-1,-0.5,0,0.5,1,1.5,2,2.5,3],"labelExpr":"datum.value % 1 === 0 ? '' + datum.value : ''","tickSize":{"condition":{"test":"datum.value % 1 !== 0","value":-3},"value":-5},"labelPadding":11,"titlePadding":2}},
"detail":{"field":"b","type":"nominal"}}},
{"data":{"name":"sym"},"mark":{"type":"rule","color":"#333333","strokeWidth":1},"encoding":{"x":{"field":"k","type":"quantitative"}}},
{"data":{"name":"zero"},"mark":{"type":"rule","color":"black","strokeDash":[3,3],"strokeWidth":1.2},"encoding":{"y":{"field":"e","type":"quantitative"}}},
{"data":{"name":"labW0"},"mark":{"type":"text","align":"left","baseline":"top","dy":4,"fontSize":14,"font":"Liberation Sans","color":"black"},"encoding":{"x":{"field":"k","type":"quantitative"},"y":{"datum":-3,"type":"quantitative"},"text":{"field":"t"}}},
{"data":{"name":"labS"},"mark":{"type":"text","align":"center","baseline":"top","dy":4,"fontSize":14,"font":"Liberation Sans","color":"black"},"encoding":{"x":{"field":"k","type":"quantitative"},"y":{"datum":-3,"type":"quantitative"},"text":{"field":"t"}}},
{"data":{"name":"labG"},"mark":{"type":"text","align":"center","baseline":"top","dy":4,"fontSize":14,"font":"Liberation Serif","color":"black"},"encoding":{"x":{"field":"k","type":"quantitative"},"y":{"datum":-3,"type":"quantitative"},"text":{"field":"t"}}},
{"data":{"name":"egeH"},"mark":{"type":"rule","color":"black","strokeWidth":1.3},"encoding":{"x":{"field":"k","type":"quantitative"},"x2":{"field":"k2"},"y":{"field":"e","type":"quantitative"}}},
{"data":{"name":"egeV"},"mark":{"type":"rule","color":"black","strokeWidth":1.3},"encoding":{"x":{"field":"k","type":"quantitative"},"y":{"field":"e","type":"quantitative"},"y2":{"field":"e2"}}},
{"data":{"name":"egeA"},"mark":{"type":"point","filled":true,"color":"black","opacity":1,"size":36},"encoding":{"x":{"field":"k","type":"quantitative"},"y":{"field":"e","type":"quantitative"},"shape":{"field":"dir","type":"nominal","scale":{"domain":["up","down"],"range":["triangle-up","triangle-down"]},"legend":null}}},
{"data":{"name":"egeT"},"mark":{"type":"text","text":"E","align":"left","baseline":"middle","fontSize":14,"font":"Liberation Sans","color":"black"},"encoding":{"x":{"field":"k","type":"quantitative"},"y":{"field":"e","type":"quantitative"}}},
{"data":{"name":"egeT"},"mark":{"type":"text","text":"g","align":"left","baseline":"middle","fontSize":11,"font":"Liberation Sans","color":"black","dx":9,"dy":5},"encoding":{"x":{"field":"k","type":"quantitative"},"y":{"field":"e","type":"quantitative"}}}
]},
{"width":194,"height":291,"layer":[
{"data":{"name":"er"},"mark":{"type":"line","color":"#ea1a1a","strokeWidth":1.3,"interpolate":"monotone","clip":true},"encoding":{
"x":{"field":"k","type":"quantitative","title":null,"scale":{"domain":[0,3.427],"nice":false,"zero":false},"axis":{"labels":false,"ticks":false,"domain":false,"grid":false}},
"y":{"field":"e","type":"quantitative","title":null,"scale":{"domain":[-3,3],"nice":false,"zero":false},"axis":{"values":[-3,-2.5,-2,-1.5,-1,-0.5,0,0.5,1,1.5,2,2.5,3],"labelExpr":"datum.value % 1 === 0 ? '' + datum.value : ''","tickSize":{"condition":{"test":"datum.value % 1 !== 0","value":-3},"value":-5},"labelPadding":11}},
"detail":{"field":"b","type":"nominal"}}},
{"data":{"name":"sym"},"mark":{"type":"rule","color":"#333333","strokeWidth":1},"encoding":{"x":{"field":"k","type":"quantitative"}}},
{"data":{"name":"zero"},"mark":{"type":"rule","color":"black","strokeDash":[3,3],"strokeWidth":1.2},"encoding":{"y":{"field":"e","type":"quantitative"}}},
{"data":{"name":"labW0"},"mark":{"type":"text","align":"left","baseline":"top","dy":4,"fontSize":14,"font":"Liberation Sans","color":"black"},"encoding":{"x":{"field":"k","type":"quantitative"},"y":{"datum":-3,"type":"quantitative"},"text":{"field":"t"}}},
{"data":{"name":"labS"},"mark":{"type":"text","align":"center","baseline":"top","dy":4,"fontSize":14,"font":"Liberation Sans","color":"black"},"encoding":{"x":{"field":"k","type":"quantitative"},"y":{"datum":-3,"type":"quantitative"},"text":{"field":"t"}}},
{"data":{"name":"labG"},"mark":{"type":"text","align":"center","baseline":"top","dy":4,"fontSize":14,"font":"Liberation Serif","color":"black"},"encoding":{"x":{"field":"k","type":"quantitative"},"y":{"datum":-3,"type":"quantitative"},"text":{"field":"t"}}},
{"data":{"name":"ef"},"mark":{"type":"text","text":"E","align":"left","baseline":"middle","fontSize":13,"font":"Liberation Sans","color":"black","dx":6},"encoding":{"x":{"field":"k","type":"quantitative"},"y":{"field":"e","type":"quantitative"}}},
{"data":{"name":"ef"},"mark":{"type":"text","text":"f","align":"left","baseline":"middle","fontSize":10,"font":"Liberation Sans","color":"black","dx":14,"dy":5},"encoding":{"x":{"field":"k","type":"quantitative"},"y":{"field":"e","type":"quantitative"}}}
]}
]}
],
"config":{
"view":{"stroke":"black","strokeWidth":1},
"axis":{"grid":false,"domain":false,"labelColor":"black","titleColor":"black","tickColor":"black","tickWidth":1,"labelFont":"Liberation Sans","titleFont":"Liberation Sans","titleFontWeight":"normal","titleFontSize":14,"labelFontSize":14},
"title":{"font":"Liberation Serif","fontSize":15,"fontWeight":"normal","color":"black","offset":6,"anchor":"middle"}
}
}
